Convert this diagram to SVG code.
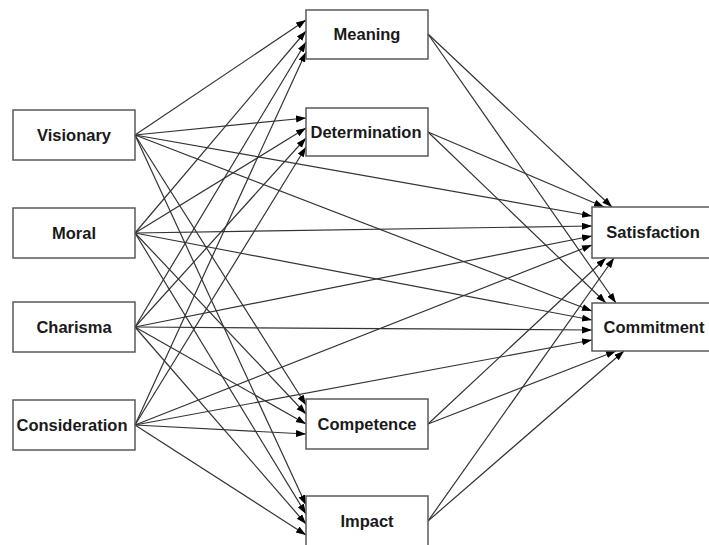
<svg xmlns="http://www.w3.org/2000/svg" width="709" height="545" viewBox="0 0 709 545">
<style>
.box{fill:#fff;stroke:#5a5a5a;stroke-width:1.5}
.lbl{font-family:"Liberation Sans",Arial,sans-serif;font-weight:bold;font-size:16.5px;fill:#1a1a1a;text-anchor:middle}
.e{stroke:#333;stroke-width:1.2;fill:none;marker-end:url(#ah)}
</style>
<defs>
<marker id="ah" markerUnits="userSpaceOnUse" markerWidth="11" markerHeight="8" refX="10" refY="3.5" orient="auto">
<path d="M0,0 L10,3.5 L0,7 z" fill="#000"/>
</marker>
</defs>
<rect width="709" height="545" fill="#fff"/>
<g id="connectors">
<line class="e" x1="135" y1="135" x2="306" y2="20"/>
<line class="e" x1="135" y1="233" x2="306" y2="31"/>
<line class="e" x1="135" y1="327" x2="306" y2="42"/>
<line class="e" x1="135" y1="425" x2="306" y2="52"/>
<line class="e" x1="135" y1="135" x2="306" y2="118"/>
<line class="e" x1="135" y1="233" x2="306" y2="128"/>
<line class="e" x1="135" y1="327" x2="306" y2="138"/>
<line class="e" x1="135" y1="425" x2="306" y2="147"/>
<line class="e" x1="135" y1="135" x2="306" y2="405"/>
<line class="e" x1="135" y1="233" x2="306" y2="414"/>
<line class="e" x1="135" y1="327" x2="306" y2="424"/>
<line class="e" x1="135" y1="425" x2="306" y2="434"/>
<line class="e" x1="135" y1="135" x2="306" y2="505"/>
<line class="e" x1="135" y1="233" x2="306" y2="514"/>
<line class="e" x1="135" y1="327" x2="306" y2="524"/>
<line class="e" x1="135" y1="425" x2="306" y2="535"/>
<line class="e" x1="135" y1="135" x2="592" y2="216"/>
<line class="e" x1="135" y1="233" x2="592" y2="226"/>
<line class="e" x1="135" y1="327" x2="592" y2="236"/>
<line class="e" x1="135" y1="425" x2="592" y2="245"/>
<line class="e" x1="135" y1="135" x2="592" y2="311"/>
<line class="e" x1="135" y1="233" x2="592" y2="320"/>
<line class="e" x1="135" y1="327" x2="592" y2="330"/>
<line class="e" x1="135" y1="425" x2="592" y2="340"/>
<line class="e" x1="428" y1="34" x2="612" y2="207"/>
<line class="e" x1="428" y1="132" x2="604" y2="207"/>
<line class="e" x1="428" y1="34" x2="616" y2="303"/>
<line class="e" x1="428" y1="132" x2="606" y2="303"/>
<line class="e" x1="428" y1="424" x2="606" y2="258"/>
<line class="e" x1="428" y1="521" x2="614" y2="258"/>
<line class="e" x1="428" y1="424" x2="616" y2="351"/>
<line class="e" x1="428" y1="521" x2="624" y2="351"/>
</g>
<g id="visionary"><rect class="box" x="13" y="110" width="122" height="50"/><text class="lbl" x="74" y="141">Visionary</text></g>
<g id="moral"><rect class="box" x="13" y="208" width="122" height="50"/><text class="lbl" x="74" y="239">Moral</text></g>
<g id="charisma"><rect class="box" x="13" y="302" width="122" height="50"/><text class="lbl" x="74" y="333">Charisma</text></g>
<g id="consideration"><rect class="box" x="13" y="400" width="122" height="50"/><text class="lbl" x="72" y="431">Consideration</text></g>
<g id="meaning"><rect class="box" x="306" y="10" width="122" height="49"/><text class="lbl" x="367" y="40">Meaning</text></g>
<g id="determination"><rect class="box" x="306" y="108" width="122" height="48"/><text class="lbl" x="366" y="138">Determination</text></g>
<g id="competence"><rect class="box" x="306" y="399" width="122" height="50"/><text class="lbl" x="367" y="430">Competence</text></g>
<g id="impact"><rect class="box" x="306" y="496" width="122" height="50"/><text class="lbl" x="367" y="527">Impact</text></g>
<g id="satisfaction"><rect class="box" x="592" y="207" width="122" height="51"/><text class="lbl" x="653" y="238">Satisfaction</text></g>
<g id="commitment"><rect class="box" x="592" y="303" width="122" height="48"/><text class="lbl" x="654" y="333">Commitment</text></g>
</svg>
